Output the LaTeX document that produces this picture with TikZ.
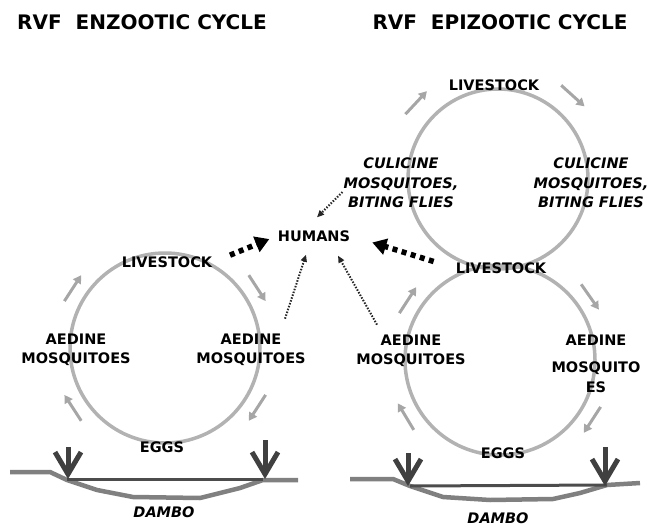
\documentclass[tikz,border=0pt]{standalone}
\usepackage{fontspec}
\setmainfont{DejaVu Sans}
\usepackage{tikz}
\usetikzlibrary{arrows.meta, calc}

\begin{document}
\begin{tikzpicture}[
  x=1pt, y=-1pt,
  tag/.style={align=center, inner sep=1pt, font=\bfseries\fontsize{14.5}{19.5}\selectfont},
  slanted/.style={tag, font=\bfseries\itshape\fontsize{14.5}{19.5}\selectfont},
  title/.style={inner sep=0pt, font=\bfseries\fontsize{20}{24}\selectfont},
  ring/.style={draw=black!30, line width=3.5pt},
  flow/.style={draw=black!35, line width=3pt, -{Triangle[length=8pt,width=9pt]}},
  ground/.style={draw=black!50, line width=4.5pt, line join=round},
  water/.style={draw=black!70, line width=3pt},
  rain/.style={draw=black!75, line width=5pt, -{Straight Barb[length=22pt,width=26pt]}},
  bigdots/.style={line width=5.5pt, dash pattern=on 5pt off 4.5pt, -{Triangle[length=14pt,width=16pt]}},
  smalldots/.style={line width=2pt, dash pattern=on 1.5pt off 1.5pt, black!85, -{Triangle[length=7pt,width=6pt]}}
]
\useasboundingbox (0,0) rectangle (650,527);

\node[title] (TitleEnz) at (142,22) {RVF\ \ ENZOOTIC CYCLE};
\node[title] (TitleEpi) at (500,22) {RVF\ \ EPIZOOTIC CYCLE};

\coordinate (RingL) at (165,348);
\coordinate (RingU) at (498,179);
\coordinate (RingR) at (500,360);
\draw[ring] (RingL) circle[radius=95pt];
\draw[ring] (RingU) circle[radius=90pt];
\draw[ring] (RingR) circle[radius=95pt];

\foreach \a in {147,33,-33,-147}
  \draw[flow] ($(RingL)+({\a+8}:111pt)$) -- ($(RingL)+({\a-8}:111pt)$);
\foreach \a in {137,48}
  \draw[flow] ($(RingU)+({\a+8}:113pt)$) -- ($(RingU)+({\a-8}:113pt)$);
\foreach \a in {147,35,-33,-149}
  \draw[flow] ($(RingR)+({\a+8}:111pt)$) -- ($(RingR)+({\a-8}:111pt)$);

\node[tag] (LivestockU) at (494,85) {LIVESTOCK};
\node[slanted] (CulicineL) at (401,183) {CULICINE\\MOSQUITOES,\\BITING FLIES};
\node[slanted] (CulicineR) at (591,183) {CULICINE\\MOSQUITOES,\\BITING FLIES};
\node[tag] (Humans) at (314,236) {HUMANS};
\node[tag] (LivestockL) at (167,262) {LIVESTOCK};
\node[tag] (LivestockR) at (501,268) {LIVESTOCK};
\node[tag] (AedineLL) at (76,350) {AEDINE\\MOSQUITOES};
\node[tag] (AedineLR) at (251,350) {AEDINE\\MOSQUITOES};
\node[tag] (AedineRL) at (411,351) {AEDINE\\MOSQUITOES};
\node[tag] (AedineRR) at (596,364) {AEDINE\\[7.5pt]MOSQUITO\\ES};
\node[tag] (EggsL) at (162,447) {EGGS};
\node[tag] (EggsR) at (503,453) {EGGS};
\node[slanted] (DamboL) at (164,512) {DAMBO};
\node[slanted] (DamboR) at (498,518) {DAMBO};

\draw[ground] (10,472) -- (50,472) -- (67,480) -- (97,490) -- (133,497) -- (200,498)
  -- (240,488) -- (263,480) -- (298,480);
\draw[water] (67,479) -- (263,479);
\draw[ground] (350,479) -- (393,479) -- (410,486) -- (443,497) -- (490,500) -- (553,499)
  -- (580,493) -- (607,485) -- (640,483);
\draw[water] (410,486) -- (607,485);

\draw[rain] (68,447) -- (68,479);
\draw[rain] (265,440) -- (265,479);
\draw[rain] (408,453) -- (408,486);
\draw[rain] (605,447) -- (605,486);

\draw[bigdots, shorten <=18pt, shorten >=8pt] (LivestockL.east) -- (Humans.west);
\draw[bigdots, shorten <=22pt, shorten >=22pt] (LivestockR.west) -- (Humans.east);
\draw[smalldots] ([shift={(34pt,14pt)}]AedineLR.north) -- ([shift={(-8pt,-12pt)}]Humans.south);
\draw[smalldots] ([shift={(-34pt,9pt)}]AedineRL.north) -- ([shift={(24pt,-13pt)}]Humans.south);
\draw[smalldots] ([shift={(0pt,-9pt)}]CulicineL.west) -- ([shift={(3pt,12pt)}]Humans.north);
\end{tikzpicture}
\end{document}
